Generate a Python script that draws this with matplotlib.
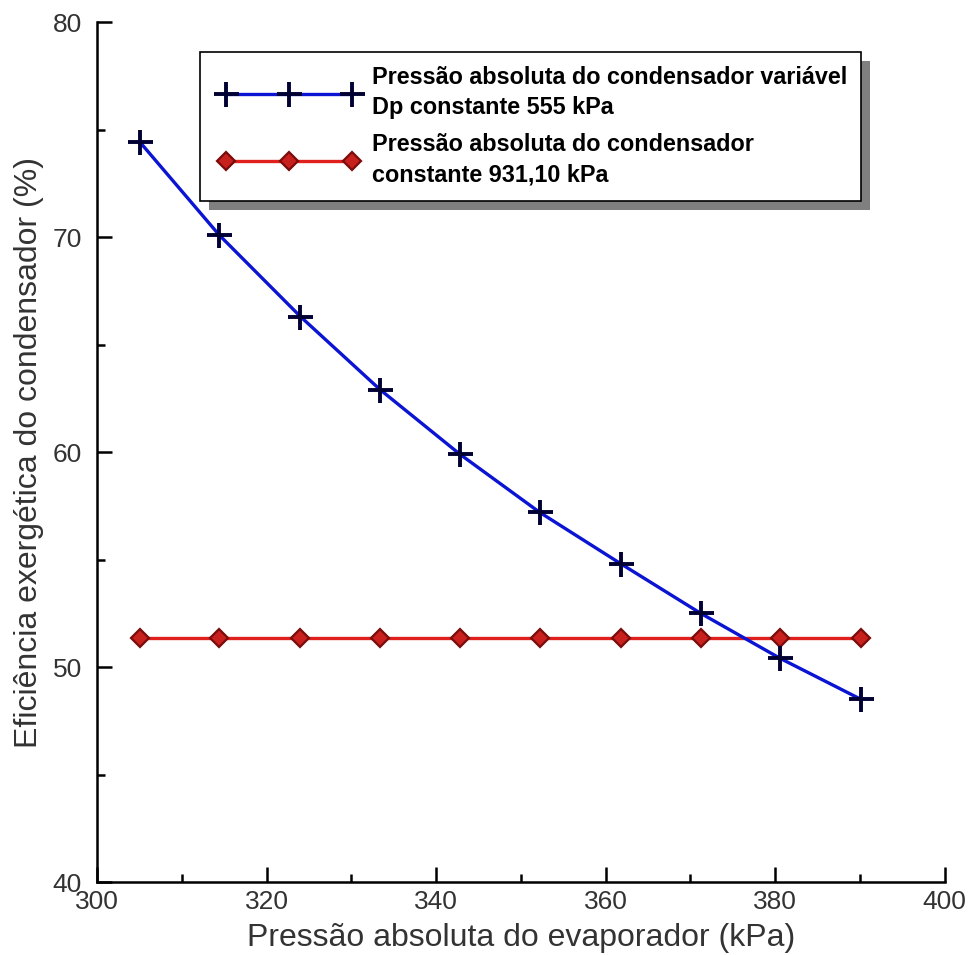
import matplotlib.pyplot as plt
from matplotlib.patches import Rectangle
from matplotlib.legend_handler import HandlerLine2D
from matplotlib.ticker import MultipleLocator

# data
p_evap = [305.1, 314.4, 324.0, 333.4, 342.8, 352.2, 361.8, 371.2, 380.6, 390.1]
eff_variable = [74.4, 70.1, 66.3, 62.9, 59.9, 57.2, 54.8, 52.5, 50.4, 48.5]
eff_constant = [51.35] * len(p_evap)

label_variable = "Pressão absoluta do condensador variável\nDp constante 555 kPa"
label_constant = "Pressão absoluta do condensador\nconstante 931,10 kPa"

plt.rcParams['font.family'] = ['Liberation Sans', 'DejaVu Sans']

fig = plt.figure(figsize=(9.7, 9.55), dpi=100)
ax = fig.add_axes([0.1, 0.0764, 0.874, 0.9005])

line_var, = ax.plot(p_evap, eff_variable, color='#0a14d2', lw=2.4, marker='+',
                    ms=18, mew=2.8, mec='#000033', label=label_variable, zorder=3)
line_const, = ax.plot(p_evap, eff_constant, color='#e0201c', lw=2.4, marker='D',
                      ms=9, mfc='#c8201c', mec='#7a0c0c', mew=1.6,
                      label=label_constant, zorder=2)

ax.set_xlim(300, 400)
ax.set_ylim(40, 80)
ax.xaxis.set_major_locator(MultipleLocator(20))
ax.xaxis.set_minor_locator(MultipleLocator(10))
ax.yaxis.set_major_locator(MultipleLocator(10))
ax.yaxis.set_minor_locator(MultipleLocator(5))

for s in ['top', 'right']:
    ax.spines[s].set_visible(False)
for s in ['left', 'bottom']:
    ax.spines[s].set_linewidth(1.8)

ax.tick_params(which='both', direction='in', width=1.8, colors='black',
               labelcolor='#333333', labelsize=19)
ax.tick_params(which='major', length=11)
ax.tick_params(which='minor', length=6)
ax.tick_params(axis='y', pad=11)
ax.tick_params(axis='x', pad=6)

ax.set_xlabel("Pressão absoluta do evaporador (kPa)", fontsize=23,
              color='#333333', labelpad=6)
ax.set_ylabel("Eficiência exergética do condensador (%)", fontsize=23,
              color='#333333', labelpad=6)

leg = ax.legend(loc='upper left', bbox_to_anchor=(0.121, 0.965), numpoints=3,
                handlelength=6.5, prop={'weight': 'bold', 'size': 16.8},
                frameon=True, fancybox=False, edgecolor='black',
                borderpad=0.6, labelspacing=0.6, handletextpad=0.3,
                borderaxespad=0,
                handler_map={line_var: HandlerLine2D(marker_pad=0.55),
                             line_const: HandlerLine2D(marker_pad=0.55)})
leg.get_frame().set_linewidth(1.2)
leg.get_frame().set_alpha(1)
leg.set_zorder(10)
for t in leg.get_texts():
    t.set_linespacing(1.4)

# offset grey shadow behind the legend box
fig.canvas.draw()
bb = leg.get_window_extent()
shadow = Rectangle((bb.x0 + 9, bb.y0 - 9), bb.width, bb.height,
                   transform=None, facecolor='#7f7f7f', edgecolor='none',
                   zorder=9, clip_on=False)
ax.add_patch(shadow)

fig.savefig('out.png', dpi=100)
